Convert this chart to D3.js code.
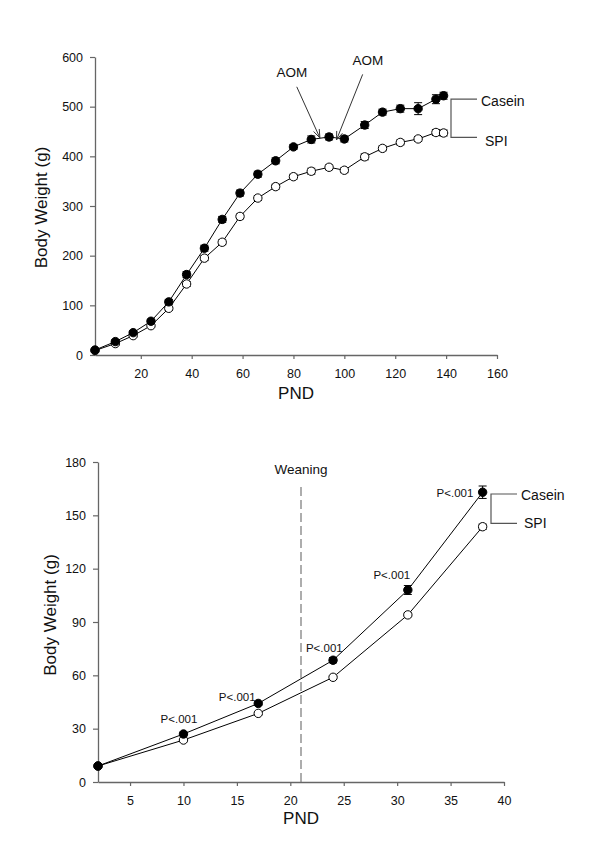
<!DOCTYPE html>
<html><head><meta charset="utf-8">
<script src="https://cdn.jsdelivr.net/npm/d3@7"></script>
<style>body{margin:0;background:#fff}svg{display:block}text{font-family:"Liberation Sans",Arial,sans-serif;fill:#111}</style>
</head><body>
<script>
// Top panel data
const pndTop = [2,10,17,24,31,38,45,52,59,66,73,80,87,94,100,108,115,122,129,136,139];
const caseinTop = [10,27,45,68,107,162,215,273,326,364,391,419,434,439,435,463,489,496,496,515,522];
const caseinTopErr = [2,3,3,4,5,6,6,6,6,6,6,5,7,6,6,7,6,7,12,9,7];
const spiTop = [9,23,39,59,94,143,195,227,279,316,339,359,370,378,372,399,416,428,435,448,447];
const spiTopErr = [2,3,3,3,4,5,5,5,5,5,5,5,6,5,5,6,5,5,5,6,6];
const topXTicks = [20,40,60,80,100,120,140,160];
const topYTicks = [0,100,200,300,400,500,600];
// AOM annotations in data units: label position, arrow start, arrow tip
const aomLabels = ["AOM","AOM"];
const aomText = [[79.4,560],[109.3,584]];
const aomFrom = [[81.3,540],[107.2,565]];
const aomTip = [[90.4,437],[96.9,433]];

// Bottom panel data
const pndBot = [2,10,17,24,31,38];
const caseinBot = [9,27,44.2,68.5,108,163];
const caseinBotErr = [0.8,1,1,1.5,2.5,3.5];
const spiBot = [9,23.6,38.6,58.9,94,143.6];
const spiBotErr = [0.8,0.8,0.8,1,1,1.5];
const botXTicks = [5,10,15,20,25,30,35,40];
const botYTicks = [0,30,60,90,120,150,180];
const pLabels = ["P<.001","P<.001","P<.001","P<.001","P<.001"];
const pPnd = [10,17,24,31,38];
const weaningPnd = 21;
const legendNames = ["Casein","SPI"];

const svg = d3.select("body").append("svg").attr("width",600).attr("height",847);
const axisColor = "#666";

function panel(cfg){
  const g = svg.append("g");
  const x = d3.scaleLinear().domain(cfg.xd).range(cfg.xr);
  const y = d3.scaleLinear().domain(cfg.yd).range(cfg.yr);
  const xa = g.append("g").attr("transform",`translate(0,${cfg.yr[0]})`)
    .call(d3.axisBottom(x).tickValues(cfg.xt).tickSize(4).tickPadding(10).tickSizeOuter(0));
  const ya = g.append("g").attr("transform",`translate(${cfg.xr[0]},0)`)
    .call(d3.axisLeft(y).tickValues(cfg.yt).tickSize(5).tickPadding(7).tickSizeOuter(0));
  [xa,ya].forEach(a=>{
    a.select(".domain").attr("stroke",axisColor).attr("stroke-width",1.3);
    a.selectAll(".tick line").attr("stroke",axisColor).attr("stroke-width",1.2);
    a.selectAll(".tick text").attr("font-size",12.5).attr("fill","#222").style("font-family","Liberation Sans, Arial, sans-serif");
  });
  g.append("text").attr("x",(cfg.xr[0]+cfg.xr[1])/2).attr("y",cfg.xlabY)
    .attr("text-anchor","middle").attr("font-size",17).text("PND");
  g.append("text").attr("transform",`translate(${cfg.ylabX},${cfg.ylabY}) rotate(-90)`)
    .attr("text-anchor","middle").attr("font-size",17).text("Body Weight (g)");

  const line = d3.line().x(d=>x(d[0])).y(d=>y(d[1]));
  const series = [
    {vals:cfg.spi, err:cfg.spiErr, fill:"#fff"},
    {vals:cfg.casein, err:cfg.caseinErr, fill:"#000"}
  ];
  series.forEach(s=>{
    const pts = cfg.pnd.map((p,i)=>[p,s.vals[i],s.err[i]]);
    g.append("path").datum(pts).attr("d",line).attr("fill","none").attr("stroke","#000").attr("stroke-width",1);
    const eb = g.append("g");
    pts.forEach(d=>{
      const x0=x(d[0]), y1=y(d[1]+d[2]), y2=y(d[1]-d[2]);
      eb.append("line").attr("x1",x0).attr("x2",x0).attr("y1",y1).attr("y2",y2).attr("stroke","#000");
      eb.append("line").attr("x1",x0-4).attr("x2",x0+4).attr("y1",y1).attr("y2",y1).attr("stroke","#000");
      eb.append("line").attr("x1",x0-4).attr("x2",x0+4).attr("y1",y2).attr("y2",y2).attr("stroke","#000");
    });
    g.append("g").selectAll("circle").data(pts).join("circle")
      .attr("cx",d=>x(d[0])).attr("cy",d=>y(d[1])).attr("r",4.2)
      .attr("fill",s.fill).attr("stroke","#000").attr("stroke-width",1);
  });
  // legend bracket
  const bx = cfg.bracketX, yc = y(cfg.bracketVals[0]), ys = y(cfg.bracketVals[1]);
  g.append("path").attr("d",`M${bx+cfg.bracketW},${yc}H${bx}V${ys}H${bx+cfg.bracketW}`)
    .attr("fill","none").attr("stroke","#555").attr("stroke-width",1.2);
  g.append("text").attr("x",bx+cfg.bracketW+cfg.legDx[0]).attr("y",yc+cfg.legDy[0]).attr("font-size",14).text(legendNames[0]);
  g.append("text").attr("x",bx+cfg.bracketW+cfg.legDx[1]).attr("y",ys+cfg.legDy[1]).attr("font-size",14).text(legendNames[1]);
  return {g,x,y};
}

const topP = panel({xd:[2,160], xr:[95,497], yd:[0,600], yr:[355,57], xt:topXTicks, yt:topYTicks,
  pnd:pndTop, casein:caseinTop, caseinErr:caseinTopErr, spi:spiTop, spiErr:spiTopErr,
  xlabY:399, ylabX:47, ylabY:207.5, bracketX:451, bracketW:26, bracketVals:[515,438], legDx:[4,8], legDy:[7,9]});
// AOM arrows
aomLabels.forEach((lab,i)=>{
  const lx=topP.x(aomText[i][0]), ly=topP.y(aomText[i][1]);
  const sx=topP.x(aomFrom[i][0]), sy=topP.y(aomFrom[i][1]);
  const tx=topP.x(aomTip[i][0]), ty=topP.y(aomTip[i][1]);
  topP.g.append("text").attr("x",lx).attr("y",ly).attr("text-anchor","middle").attr("font-size",13.5).text(lab);
  topP.g.append("line").attr("x1",sx).attr("y1",sy).attr("x2",tx).attr("y2",ty).attr("stroke","#333").attr("stroke-width",1);
  const ang = Math.atan2(ty-sy, tx-sx), L=9, w=0.35;
  [ang+Math.PI-w, ang+Math.PI+w].forEach(t=>{
    topP.g.append("line").attr("x1",tx).attr("y1",ty).attr("x2",tx+L*Math.cos(t)).attr("y2",ty+L*Math.sin(t)).attr("stroke","#333").attr("stroke-width",1);
  });
});

const botP = panel({xd:[2,40], xr:[98,504], yd:[0,180], yr:[782,462], xt:botXTicks, yt:botYTicks,
  pnd:pndBot, casein:caseinBot, caseinErr:caseinBotErr, spi:spiBot, spiErr:spiBotErr,
  xlabY:824, ylabX:55.5, ylabY:615, bracketX:491, bracketW:26, bracketVals:[162,145.5], legDx:[4,7], legDy:[6,5]});
// weaning line
botP.g.append("line").attr("x1",botP.x(weaningPnd)).attr("x2",botP.x(weaningPnd)).attr("y1",487).attr("y2",botP.y(0))
  .attr("stroke","#777").attr("stroke-width",1.2).attr("stroke-dasharray","9,4");
botP.g.append("text").attr("x",botP.x(weaningPnd)).attr("y",474).attr("text-anchor","middle").attr("font-size",13.5).text("Weaning");
// P labels (offsets in px relative to the Casein point)
const pOff = [[-4.5,-11,"middle"],[-21,-2.7,"middle"],[-8.7,-8,"middle"],[-16,-11,"middle"],[-9.3,5,"end"]];
pPnd.forEach((p,i)=>{
  const ci = pndBot.indexOf(p);
  const v = caseinBot[ci];
  botP.g.append("text").attr("x",botP.x(p)+pOff[i][0]).attr("y",botP.y(v)+pOff[i][1])
    .attr("text-anchor",pOff[i][2]).attr("font-size",11.5).text(pLabels[i]);
});
</script>
</body></html>
